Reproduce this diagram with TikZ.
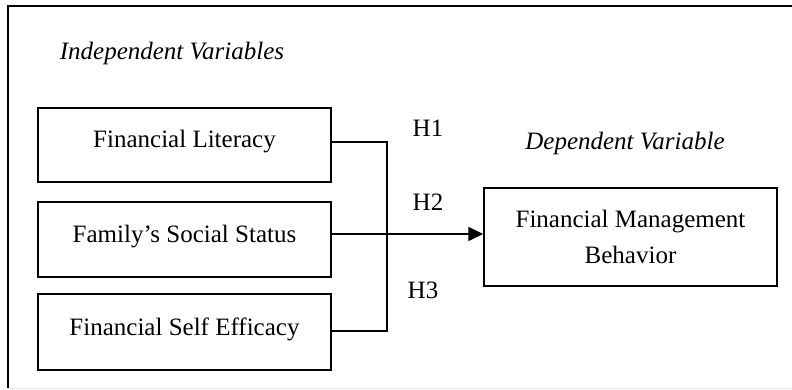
\documentclass[tikz,border=0pt]{standalone}
\usepackage{fontspec}
\setmainfont{Liberation Serif}
\usepackage{tikz}
\usetikzlibrary{
  	positioning,
  	arrows.meta
  }
\tikzstyle{varbox}=[draw,line width=1.4pt,minimum width=293pt,inner sep=0pt,text height=17pt,text depth=11pt]
\tikzstyle{link}=[line width=1.4pt]

\begin{document}
\begin{tikzpicture}[x=1pt,y=-1pt,font=\fontsize{25}{36}\selectfont]
\useasboundingbox (0,0) rectangle (792,390);
% frame
\draw [line width=1.6pt] (792,6) -- (8,6) -- (8,388);
\draw [gray!20, line width=1pt] (8,388) -- (792,388);
% independent side
\node (ind) at (172,53) {\itshape Independent Variables};
\node [varbox, minimum height=74pt] (lit) at (184.5,145) {Financial Literacy};
\node [varbox, minimum height=75pt] (soc) at (184.5,239.5) {Family’s Social Status};
\node [varbox, minimum height=76pt] (eff) at (184.5,332) {Financial Self Efficacy};
% dependent side
\node (dep) at (625,143) {\itshape Dependent Variable};
\node [draw, line width=1.4pt, minimum width=293pt, minimum height=98pt, inner sep=0pt, align=center] (fmb) at (630.5,237) {Financial Management\\Behavior};
% hypotheses
\node (h1) at (428,128) {H1};
\node (h2) at (428,202) {H2};
\node (h3) at (423,290) {H3};
% connectors
\coordinate (jn) at (387,237);
\draw [link] ([yshift=3pt]lit.east) -| (jn) |- ([yshift=1pt]eff.east);
\draw [link, -{Triangle[length=15pt,width=14pt]}] ([yshift=5.5pt]soc.east) -- ([yshift=5.5pt]soc.east -| fmb.west);
\end{tikzpicture}
\end{document}
